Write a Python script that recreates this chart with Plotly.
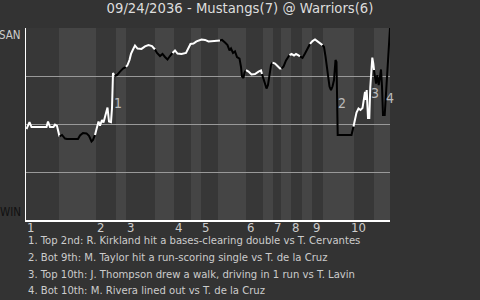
import plotly.graph_objects as go

# ---------------- data ----------------
title_text = "09/24/2036 - Mustangs(7) @ Warriors(6)"
top_label = "SAN"
bottom_label = "WIN"

# half-inning boundaries (event scale)
half_bounds = [0, 33, 70, 90, 100, 129, 148, 165, 175, 192, 220, 237, 247, 255,
               265, 276, 286, 297, 328, 348, 364]
inning_starts = [0, 70, 100, 148, 175, 220, 247, 265, 286, 328]
inning_labels = ["1", "2", "3", "4", "5", "6", "7", "8", "9", "10"]

# win-probability path (event index, probability), side batting: A=away(white), H=home(black)
wp_x = [0.5, 3.5, 5.5, 20.5, 22, 24, 27.5, 29, 31, 32.5, 33.5,
        36, 39, 41, 52, 54, 57, 60.5, 63, 65.5, 67, 69,
        70.5, 72.5, 74, 76, 77.5, 80, 81.5, 83, 85, 86, 87, 88.5,
        91, 94, 97, 100,
        101.5, 103.5, 105, 107, 109, 111.5, 115.5, 119, 122.5, 126, 129,
        131, 134, 136.5, 139, 141.5, 144, 146.5,
        149, 151.5, 155.5, 160, 162.5, 164.5, 167.5, 170.5, 175.5, 179, 182.5, 187.5, 194,
        196, 199, 201.5, 203.5, 205, 207, 209, 211, 213.5, 215, 216, 217.5, 218.5, 220,
        222.5, 225.5, 229, 232.5, 235, 236,
        237.5, 239, 240.5, 242, 243.5, 245, 246.5,
        249, 251.5, 254, 255.5,
        257.5, 260, 263.5,
        265.5, 268, 270, 272.5, 274,
        276.5, 279, 281.5, 284,
        286.5, 289, 291.5, 294, 296.5,
        298, 299.5, 300.5, 302, 303.5, 305, 306.5, 308, 309.5, 310.5, 311, 311.7, 325.5, 327.5,
        329, 330.5, 332.5, 334.5, 336.5, 338, 339, 339.7, 340.7, 342, 343.3, 344.3, 345.3, 346.3, 347.3, 348,
        349, 350, 351.3, 352.7, 354, 355, 356, 357, 358.7, 359.7, 360.7, 362, 363.3, 364]
wp_p = [0.474, 0.510, 0.484, 0.484, 0.513, 0.484, 0.484, 0.497, 0.490, 0.453, 0.435,
        0.443, 0.424, 0.422, 0.422, 0.440, 0.453, 0.451, 0.438, 0.409, 0.417, 0.443,
        0.474, 0.513, 0.492, 0.521, 0.508, 0.563, 0.586, 0.513, 0.510, 0.583, 0.766, 0.750,
        0.755, 0.773, 0.789, 0.797,
        0.807, 0.833, 0.865, 0.888, 0.909, 0.893, 0.891, 0.904, 0.911, 0.906, 0.888,
        0.870, 0.854, 0.865, 0.849, 0.836, 0.854, 0.870,
        0.883, 0.867, 0.865, 0.870, 0.896, 0.917, 0.919, 0.930, 0.940, 0.938, 0.930, 0.932, 0.935,
        0.938, 0.924, 0.911, 0.883, 0.893, 0.870, 0.878, 0.849, 0.841, 0.797, 0.747, 0.740, 0.768, 0.781,
        0.773, 0.758, 0.760, 0.773, 0.779, 0.760,
        0.737, 0.708, 0.685, 0.703, 0.766, 0.807, 0.820,
        0.815, 0.802, 0.789, 0.789,
        0.799, 0.831, 0.859,
        0.865, 0.857, 0.865, 0.857, 0.852,
        0.844, 0.867, 0.893, 0.917,
        0.932, 0.940, 0.930, 0.924, 0.911,
        0.901, 0.852, 0.815, 0.747, 0.695, 0.677, 0.695, 0.729, 0.833, 0.823, 0.693, 0.443, 0.443, 0.487,
        0.521, 0.560, 0.581, 0.573, 0.583, 0.625, 0.667, 0.625, 0.677, 0.531, 0.531, 0.693, 0.781, 0.846, 0.815, 0.781,
        0.729, 0.711, 0.755, 0.703, 0.747, 0.784, 0.695, 0.547, 0.547, 0.643, 0.721, 0.833, 0.956, 1.0]
wp_side = (["A"] * 11 + ["H"] * 11 + ["A"] * 12 + ["H"] * 4 + ["A"] * 11 + ["H"] * 7 +
           ["A"] * 13 + ["H"] * 14 + ["A"] * 6 + ["H"] * 7 + ["A"] * 4 + ["H"] * 3 +
           ["A"] * 5 + ["H"] * 4 + ["A"] * 5 + ["H"] * 14 + ["A"] * 16 + ["H"] * 14)

# key events
event_labels = ["1", "2", "3", "4"]
event_x = [92, 316, 349, 364]
event_p = [0.609, 0.607, 0.659, 0.637]
event_notes = [
    "1. Top 2nd: R. Kirkland hit a bases-clearing double vs T. Cervantes",
    "2. Bot 9th: M. Taylor hit a run-scoring single vs T. de la Cruz",
    "3. Top 10th: J. Thompson drew a walk, driving in 1 run vs T. Lavin",
    "4. Bot 10th: M. Rivera lined out vs T. de la Cruz",
]

# ---------------- figure ----------------
FONT = "Liberation Sans Narrow, DejaVu Sans Condensed, Arial Narrow, sans-serif"
BG = "#333333"
BAND_TOP = "#373737"
BAND_BOT = "#454545"
TXT = "#cccccc"

fig = go.Figure()

# bands
shapes = []
for i in range(len(half_bounds) - 1):
    shapes.append(dict(type="rect", xref="x", yref="paper",
                       x0=half_bounds[i], x1=half_bounds[i + 1], y0=0, y1=1,
                       fillcolor=BAND_TOP if i % 2 == 0 else BAND_BOT,
                       line=dict(width=0), layer="below"))

# line segments colored by batting side
colors = {"A": "#ffffff", "H": "#000000"}
start = 0
n = len(wp_x)
for i in range(1, n + 1):
    if i == n or wp_side[i] != wp_side[start]:
        seg_from = max(start - 1, 0)
        fig.add_trace(go.Scatter(x=wp_x[seg_from:i], y=wp_p[seg_from:i], mode="lines",
                                 line=dict(color=colors[wp_side[start]], width=2),
                                 hoverinfo="skip", showlegend=False))
        start = i

annotations = []
for lab, ex, ep in zip(event_labels, event_x, event_p):
    annotations.append(dict(x=ex, y=ep, xref="x", yref="y", text=lab, showarrow=False,
                            font=dict(family=FONT, size=14, color="#bbbbbb")))

# inning tick labels
for lab, sx in zip(inning_labels, inning_starts):
    annotations.append(dict(x=sx, y=0, xref="x", yref="paper", text=lab, showarrow=False,
                            xanchor="center", yanchor="top", xshift=4, yshift=2,
                            font=dict(family=FONT, size=13, color=TXT)))

annotations.append(dict(x=0, y=1, xref="paper", yref="paper", text=top_label,
                        xanchor="right", yanchor="top", xshift=-3, yshift=2, showarrow=False,
                        font=dict(family=FONT, size=11.5, color=TXT)))
annotations.append(dict(x=0, y=0, xref="paper", yref="paper", text=bottom_label,
                        xanchor="right", yanchor="bottom", xshift=-3, yshift=-1, showarrow=False,
                        font=dict(family=FONT, size=11.5, color="#111111")))

for k, note in enumerate(event_notes):
    annotations.append(dict(x=0, y=-0.109 - k * 0.0868, xref="paper", yref="paper", text=note,
                            xanchor="left", yanchor="middle", xshift=0, showarrow=False,
                            font=dict(family=FONT, size=11.2, color=TXT)))

fig.update_layout(
    width=480, height=300,
    margin=dict(l=26, r=90, t=28, b=80),
    paper_bgcolor=BG, plot_bgcolor=BG,
    shapes=shapes, annotations=annotations,
    title=dict(text=title_text, x=0.5, xref="container", xanchor="center",
               y=1 - 8 / 300, yanchor="middle",
               font=dict(family=FONT, size=14.7, color="#dddddd")),
    showlegend=False,
    xaxis=dict(range=[0, 364], showgrid=False, zeroline=False,
               showline=True, linecolor="#ffffff", linewidth=2,
               showticklabels=False, ticks="", fixedrange=True),
    yaxis=dict(range=[0, 1], showgrid=True, gridcolor="#999999", gridwidth=1,
               tickvals=[0.25, 0.5, 0.75, 1.0], showticklabels=False, zeroline=False,
               showline=True, linecolor="#ffffff", linewidth=1, ticks="", fixedrange=True),
)

fig.write_html("out.html")
